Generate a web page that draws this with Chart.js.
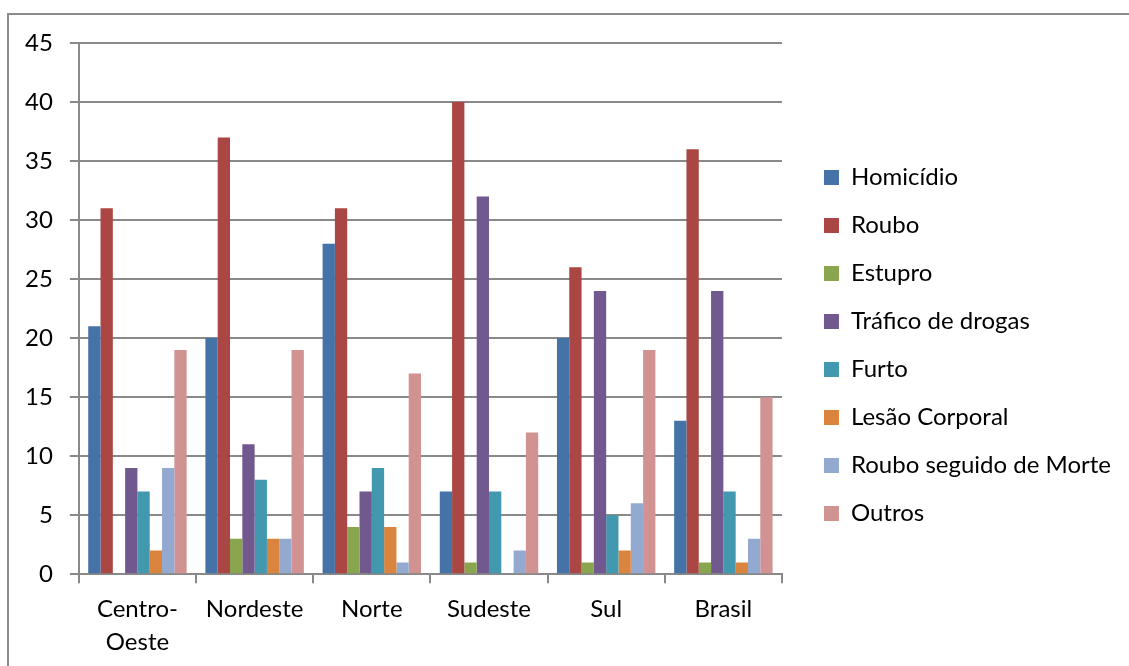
<!DOCTYPE html>
<html>
<head>
<meta charset="utf-8">
<script src="https://cdn.jsdelivr.net/npm/chart.js@4"></script>
<style>
  body { margin: 0; background: #fff; overflow: hidden; }
  #wrap { position: relative; width: 1129px; height: 666px; }
</style>
</head>
<body>
<div id="wrap"><canvas id="grafico"></canvas></div>
<script>
const regioes = [['Centro-', 'Oeste'], 'Nordeste', 'Norte', 'Sudeste', 'Sul', 'Brasil'];

const homicidio   = [21, 20, 28, 7, 20, 13];
const roubo       = [31, 37, 31, 40, 26, 36];
const estupro     = [0, 3, 4, 1, 1, 1];
const trafico     = [9, 11, 7, 32, 24, 24];
const furto       = [7, 8, 9, 7, 5, 7];
const lesao       = [2, 3, 4, 0, 2, 1];
const rouboMorte  = [9, 3, 1, 2, 6, 3];
const outros      = [19, 19, 17, 12, 19, 15];

const yTicks = [0, 5, 10, 15, 20, 25, 30, 35, 40, 45];

const series = [
    { label: 'Homicídio', data: homicidio, color: '#4572A7' },
    { label: 'Roubo', data: roubo, color: '#AA4643' },
    { label: 'Estupro', data: estupro, color: '#89A54E' },
    { label: 'Tráfico de drogas', data: trafico, color: '#71588F' },
    { label: 'Furto', data: furto, color: '#4198AF' },
    { label: 'Lesão Corporal', data: lesao, color: '#DB843D' },
    { label: 'Roubo seguido de Morte', data: rouboMorte, color: '#93A9CF' },
    { label: 'Outros', data: outros, color: '#D19392' }
];

const fonte = 'Lato, "Open Sans", sans-serif';
const cinza = '#898989';

// moldura cinza em volta do grafico (cortada na direita e embaixo como no original)
const moldura = {
    id: 'moldura',
    beforeDraw(chart) {
        const ctx = chart.ctx;
        ctx.save();
        ctx.strokeStyle = '#8c8c8c';
        ctx.lineWidth = 2;
        ctx.strokeRect(8, 14, 1300, 900);
        ctx.restore();
    }
};

// afasta um pouco a legenda da area do grafico e sobe ela
const empurraLegenda = {
    id: 'empurraLegenda',
    afterLayout(chart) {
        const lg = chart.legend;
        if (lg) {
            lg.left += 18;
            lg.right += 18;
            lg.top -= 10;
            lg.bottom -= 10;
        }
    }
};

const ctx = document.getElementById('grafico').getContext('2d');
new Chart(ctx, {
    type: 'bar',
    data: {
        labels: regioes,
        datasets: series.map(s => ({
            label: s.label,
            data: s.data,
            backgroundColor: s.color,
            borderWidth: 0,
            barPercentage: 1.0,
            categoryPercentage: 0.84
        }))
    },
    options: {
        responsive: true,
        maintainAspectRatio: false,
        animation: false,
        layout: { padding: { left: 8, right: 26, top: 43, bottom: -2 } },
        plugins: {
            tooltip: { enabled: false },
            legend: {
                position: 'right',
                align: 'center',
                maxWidth: 400,
                labels: {
                    boxWidth: 15,
                    boxHeight: 15,
                    padding: 24,
                    color: '#000',
                    font: { family: fonte, size: 24 }
                }
            }
        },
        scales: {
            x: {
                grid: {
                    offset: true,
                    drawOnChartArea: false,
                    drawTicks: true,
                    tickLength: 9,
                    color: cinza,
                    lineWidth: 2
                },
                border: { color: cinza, width: 2 },
                ticks: {
                    color: '#000',
                    padding: 10,
                    maxRotation: 0,
                    font: { family: fonte, size: 24, lineHeight: 1.35 }
                }
            },
            y: {
                min: 0,
                max: 45,
                afterBuildTicks(axis) {
                    axis.ticks = yTicks.map(v => ({ value: v }));
                },
                grid: {
                    color: cinza,
                    lineWidth: 2,
                    tickLength: 9
                },
                border: { color: cinza, width: 2 },
                ticks: {
                    color: '#000',
                    padding: 17,
                    font: { family: fonte, size: 24 }
                }
            }
        }
    },
    plugins: [moldura, empurraLegenda]
});
</script>
</body>
</html>
